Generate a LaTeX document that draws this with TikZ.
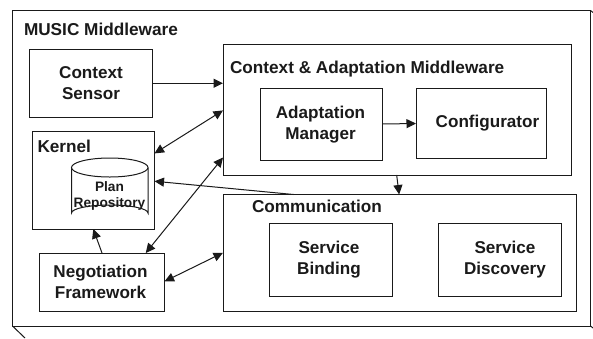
\documentclass[tikz,border=0pt]{standalone}
\usepackage{fontspec}
\setmainfont{Liberation Sans}
\usetikzlibrary{arrows.meta,calc}
\definecolor{ink}{HTML}{1A1A1A}
\tikzset{
  every node/.style={inner sep=0pt,outer sep=0pt},
  lbl/.style={align=center,text=ink,font=\bfseries\fontsize{17.1}{21}\selectfont},
  hdr/.style={anchor=west,text=ink,font=\bfseries\fontsize{17.2}{21}\selectfont},
  small/.style={align=center,text=ink,font=\bfseries\fontsize{13.7}{16.5}\selectfont},
  wire/.style={draw=ink,line width=1pt},
  one/.style={wire,-{Triangle[length=9.5pt,width=9pt]}},
  two/.style={wire,{Triangle[length=9.5pt,width=9pt]}-{Triangle[length=9.5pt,width=9pt]}}
}
% name, x1, y1, x2, y2
\newcommand{\pbox}[5]{\node[wire,rectangle,minimum width=#4pt-#2pt,minimum height=#5pt-#3pt] (#1) at ({(#2+#4)/2},{(#3+#5)/2}) {};}
\begin{document}
\begin{tikzpicture}[x=1pt,y=-1pt]
\useasboundingbox (0,0) rectangle (593,338);
\fill[white] (0,0) rectangle (593,338);
\pbox{outer}{12.5}{10.5}{590.5}{326}
\coordinate (tail) at (25,338);
\coordinate (tickA) at (593,12.5);
\coordinate (tickB) at (593,328);
\draw[wire] (outer.south west) -- (tail);
\draw[wire] (outer.north east) -- (tickA);
\draw[wire] (outer.south east) -- (tickB);
\pbox{sensor}{29.5}{49.5}{152.5}{117}
\pbox{kernel}{32}{131.5}{154.5}{229}
\pbox{nego}{39.5}{253}{164.5}{311}
\pbox{cam}{223}{44.5}{571}{175}
\pbox{mgr}{260}{88.5}{382.5}{160.5}
\pbox{conf}{416}{88.5}{546.5}{158}
\pbox{comm}{223}{194.5}{576}{311}
\pbox{bind}{269.5}{223.5}{392.5}{296}
\pbox{disc}{438.5}{223.5}{561}{296}
% cylinder
\draw[wire,fill=white] (71.5,167.5) -- (71.5,213) arc[start angle=180,end angle=360,x radius=38.25,y radius=8] -- (148,167.5);
\draw[wire,fill=white] (109.75,167.5) ellipse[x radius=38.25,y radius=9.5];
% labels
\node[hdr] (tmusic) at (24,29.5) {MUSIC Middleware};
\node[hdr] (tcam) at (230,69) {Context \& Adaptation Middleware};
\node[hdr] (tkernel) at (37.5,146) {Kernel};
\node[hdr] (tcomm) at (252,206) {Communication};
\node[lbl] (tsensor) at (91,83) {Context\\Sensor};
\node[lbl] (tnego) at (100.5,282) {Negotiation\\Framework};
\node[lbl] (tmgr) at (320.5,124.5) {Adaptation\\Manager};
\node[lbl] (tconf) at (487.5,123) {Configurator};
\node[lbl] (tbind) at (329,259.5) {Service\\Binding};
\node[lbl] (tdisc) at (505,259.5) {Service\\Discovery};
\node[small] (tplan) at (109.5,196) {Plan\\Repository};
% connectors
\draw[one] (sensor.east) -- (sensor.east -| cam.west);
\draw[one] ($(mgr.east)+(0,-0.5)$) -- ($(mgr.east -| conf.west)+(0,-1)$);
\draw[two] ($(kernel.north east)!0.225!(kernel.south east)$) -- ($(cam.north west)!0.505!(cam.south west)$);
\draw[two] ($(nego.north west)!0.85!(nego.north east)$) -- ($(cam.north west)!0.866!(cam.south west)$);
\draw[one] ($(nego.north west)!0.5!(nego.north east)$) -- ($(kernel.south west)!0.5!(kernel.south east)$);
\draw[one] ($(cam.south west)!0.499!(cam.south east)$) -- ($(comm.north west)!0.499!(comm.north east)$);
\draw[one] ($(comm.north west)!0.2!(comm.north east)$) -- ($(kernel.north east)!0.51!(kernel.south east)$);
\draw[two] ($(nego.north east)!0.49!(nego.south east)$) -- ($(comm.north west)!0.5!(comm.south west)$);
\end{tikzpicture}
\end{document}
